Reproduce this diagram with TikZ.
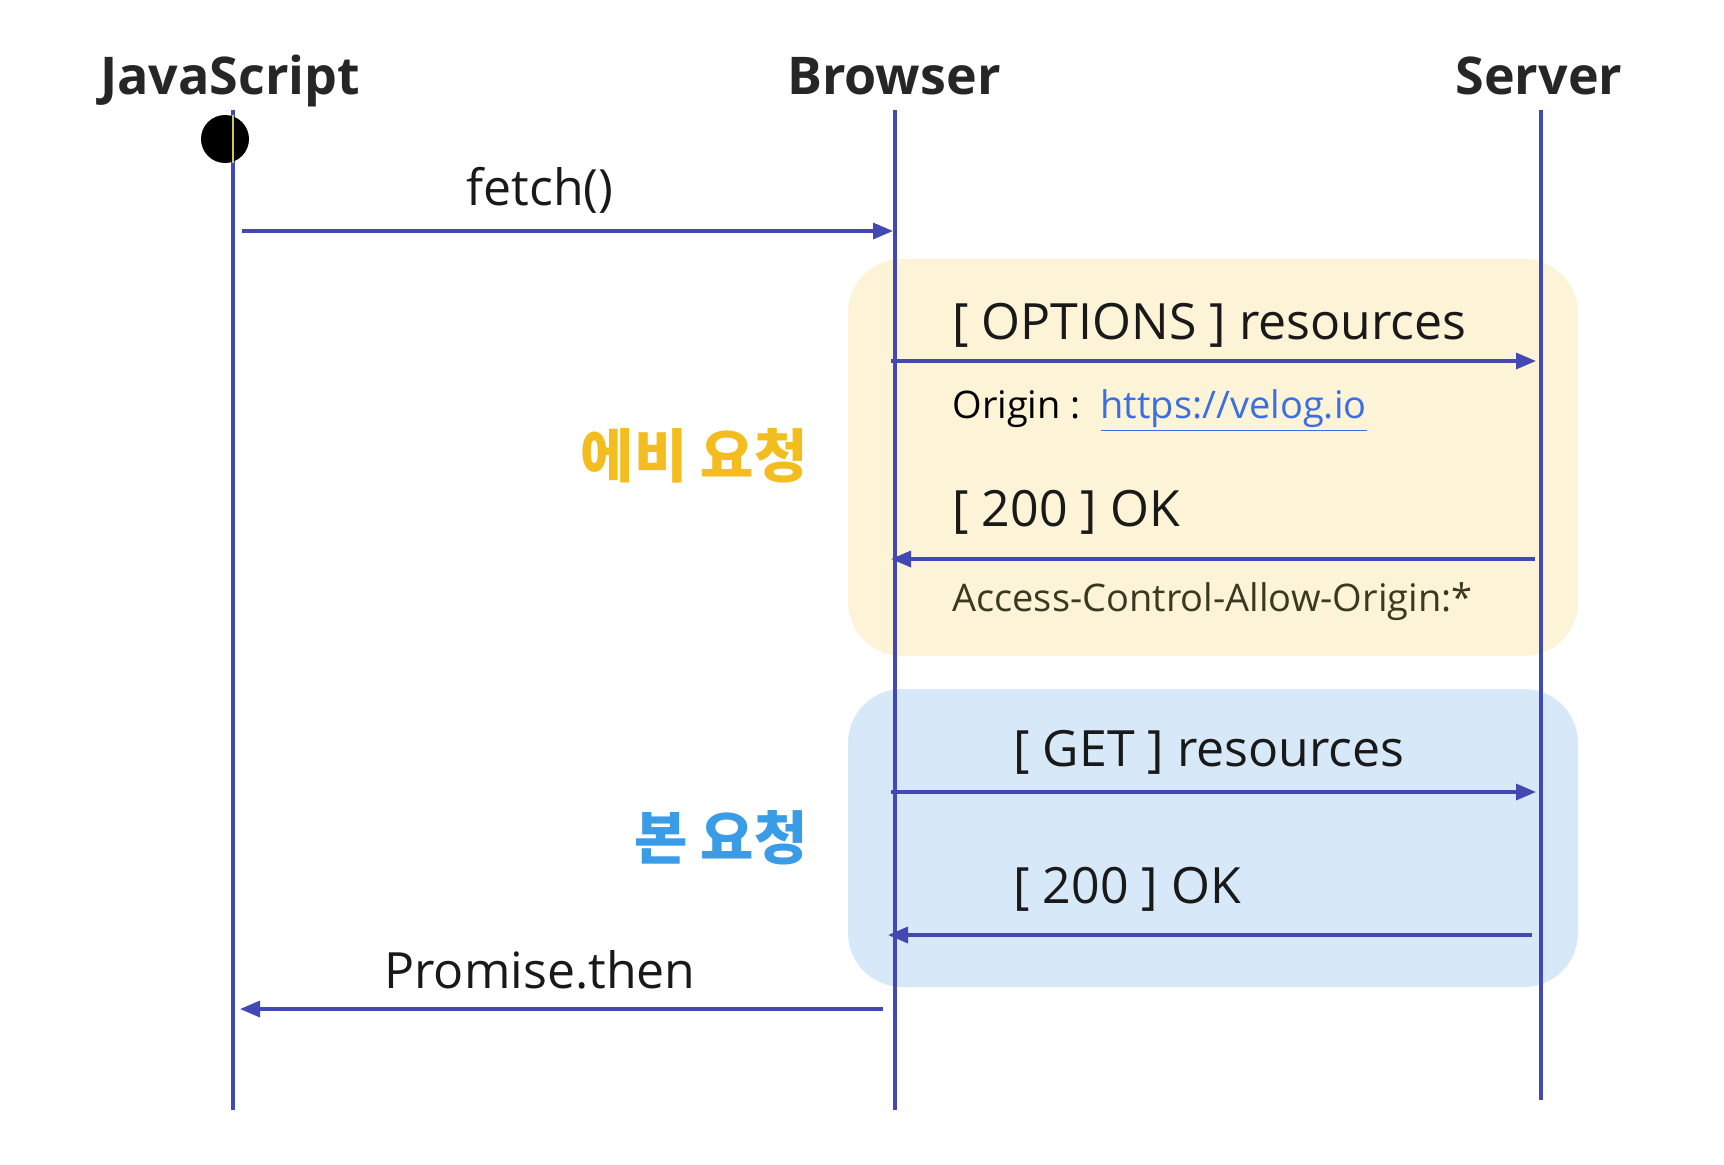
\documentclass[tikz,border=0pt]{standalone}
\usepackage{fontspec}
\setmainfont{Open Sans}
\newfontfamily\kofont{Noto Sans CJK KR}
\usetikzlibrary{arrows.meta}
\definecolor{lane}{HTML}{4349B3}
\definecolor{preFill}{HTML}{FDF3D6}
\definecolor{mainFill}{HTML}{D7E9F9}
\definecolor{preText}{HTML}{F4BD1F}
\definecolor{mainText}{HTML}{3A9BE6}
\definecolor{linkText}{HTML}{3A6FE3}
\definecolor{headerText}{HTML}{3A3820}
\begin{document}
\begin{tikzpicture}
    [x=0.5pt, y=-0.5pt,
     lifeline/.style={draw=lane, line width=1.7pt},
     msg/.style={draw=lane, line width=1.7pt, -{Triangle[length=10pt,width=8pt]}},
     actor/.style={font=\fontsize{26}{30}\selectfont\bfseries, text=black!85, inner sep=0pt, anchor=base},
     label/.style={font=\fontsize{25}{30}\selectfont, text=black!90, inner sep=0pt},
     note/.style={font=\fontsize{19}{23}\selectfont, inner sep=0pt, anchor=west},
     phase/.style={font=\kofont\bfseries\fontsize{29}{34}\selectfont, inner sep=0pt, anchor=east},
     box/.style={rounded corners=27pt}]
    \useasboundingbox (0,0) rectangle (1724,1164);

    % phases
    \fill[preFill, box] (848,259) rectangle (1578,656);
    \fill[mainFill, box] (848,689) rectangle (1578,987);

    % actors and lifelines
    \node[actor] (js) at (230,94) {JavaScript};
    \node[actor] (browser) at (894,94) {Browser};
    \node[actor] (server) at (1539,94) {Server};
    \coordinate (jsTop) at (233,110);      \coordinate (jsEnd) at (233,1110);
    \coordinate (brTop) at (895,110);      \coordinate (brEnd) at (895,1110);
    \coordinate (svTop) at (1541,110);     \coordinate (svEnd) at (1541,1100);
    \draw[lifeline] (jsTop) -- (jsEnd);
    \draw[lifeline] (brTop) -- (brEnd);
    \draw[lifeline] (svTop) -- (svEnd);
    \node[circle, fill=black, minimum size=24pt, inner sep=0pt] (start) at (225,139) {};
    \draw[draw=yellow!55!gray, line width=1.2pt] (start.north -| jsTop) -- (start.south -| jsTop);

    % fetch
    \coordinate (fetchA) at (242,231);  \coordinate (fetchB) at (893,231);
    \draw[msg] (fetchA) -- (fetchB);
    \node[label] (fetch) at (540,190) {fetch()};

    % preflight
    \coordinate (optA) at (891,361);    \coordinate (optB) at (1536,361);
    \draw[msg] (optA) -- (optB);
    \node[label, anchor=west] (opt) at (952,325) {[ OPTIONS ] resources};
    \node[note] (origin) at (952,411) {Origin :\ \ \textcolor{linkText}{\underline{https://velog.io}}};
    \coordinate (okA) at (1535,559);    \coordinate (okB) at (891,559);
    \draw[msg] (okA) -- (okB);
    \node[label, anchor=west] (ok) at (952,512) {[ 200 ] OK};
    \node[note, text=headerText] (acao) at (952,602) {Access-Control-Allow-Origin:*};
    \node[phase, text=preText] (pre) at (808,456) {에비 요청};

    % actual request
    \coordinate (getA) at (891,792);    \coordinate (getB) at (1536,792);
    \draw[msg] (getA) -- (getB);
    \node[label, anchor=west] (get) at (1013,752) {[ GET ] resources};
    \coordinate (resA) at (1532,935);   \coordinate (resB) at (888,935);
    \draw[msg] (resA) -- (resB);
    \node[label, anchor=west] (res) at (1013,889) {[ 200 ] OK};
    \node[phase, text=mainText] (main) at (808,838) {본 요청};

    % promise
    \coordinate (thenA) at (883,1009);  \coordinate (thenB) at (240,1009);
    \draw[msg] (thenA) -- (thenB);
    \node[label] (then) at (540,970) {Promise.then};
\end{tikzpicture}
\end{document}
